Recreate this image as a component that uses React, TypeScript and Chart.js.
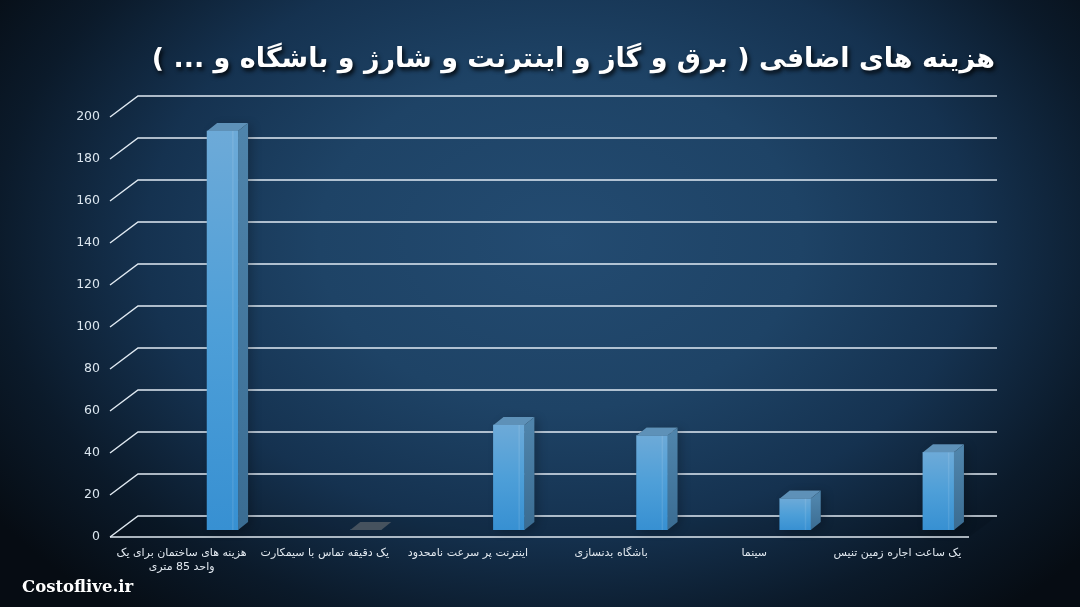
import React, { useEffect, useRef } from 'react';
import { Chart, registerables } from 'chart.js';

Chart.register(...registerables);

const TITLE = 'هزینه های اضافی ( برق و گاز و اینترنت و شارژ و باشگاه و ... )';
const WATERMARK = 'Costoflive.ir';

const categories: (string | string[])[] = [
  ['هزینه های ساختمان برای یک', 'واحد 85 متری'],
  'یک دقیقه تماس با سیمکارت',
  'اینترنت پر سرعت نامحدود',
  'باشگاه بدنسازی',
  'سینما',
  'یک ساعت اجاره زمین تنیس',
];
const costs = [190, 0, 50, 45, 15, 37];
const yMin = 0;
const yMax = 200;
const yStep = 20;

// 3D styling constants
const WALL_DX = 28;
const WALL_DY = 21;
const BAR_SHIFT_X = 41;
const BAR_SHIFT_Y = -7;
const BAR_DX = 10;
const BAR_DY = 8;

const W = 1080;
const H = 607;

function fitFont(ctx: CanvasRenderingContext2D, text: string, weight: string, family: string, start: number, maxW: number) {
  let size = start;
  ctx.font = `${weight} ${size}px ${family}`;
  while (ctx.measureText(text).width > maxW && size > 8) {
    size -= 0.5;
    ctx.font = `${weight} ${size}px ${family}`;
  }
  return size;
}

const scenePlugin = {
  id: 'scene3d',
  beforeDraw(chart: any) {
    const ctx: CanvasRenderingContext2D = chart.ctx;
    ctx.save();
    ctx.fillStyle = '#060c13';
    ctx.fillRect(0, 0, W, H);
    ctx.translate(560, 240);
    ctx.scale(1, 0.7);
    const g = ctx.createRadialGradient(0, 0, 0, 0, 0, 690);
    g.addColorStop(0, '#234b71');
    g.addColorStop(0.35, '#1e4366');
    g.addColorStop(0.6, '#153250');
    g.addColorStop(0.82, '#0b1a2a');
    g.addColorStop(1, '#060c13');
    ctx.fillStyle = g;
    ctx.fillRect(-720, -720, 1440, 1440);
    ctx.restore();
  },
  beforeDatasetsDraw(chart: any) {
    const ctx: CanvasRenderingContext2D = chart.ctx;
    const area = chart.chartArea;
    const ys = chart.scales.y;
    ctx.save();
    // floor
    const y0 = ys.getPixelForValue(yMin);
    ctx.beginPath();
    ctx.moveTo(area.left, y0);
    ctx.lineTo(area.left + WALL_DX, y0 - WALL_DY);
    ctx.lineTo(area.right + WALL_DX, y0 - WALL_DY);
    ctx.lineTo(area.right, y0);
    ctx.closePath();
    ctx.fillStyle = 'rgba(0,0,0,0.1)';
    ctx.fill();
    // grid lines
    ctx.strokeStyle = 'rgba(236,244,252,0.95)';
    ctx.lineWidth = 1.4;
    for (let v = yMin; v <= yMax; v += yStep) {
      const yf = ys.getPixelForValue(v);
      ctx.beginPath();
      ctx.moveTo(area.left, yf);
      ctx.lineTo(area.left + WALL_DX, yf - WALL_DY);
      ctx.lineTo(area.right + WALL_DX, yf - WALL_DY);
      ctx.stroke();
    }
    ctx.beginPath();
    ctx.moveTo(area.left, y0);
    ctx.lineTo(area.right, y0);
    ctx.stroke();

    // bar shadows
    const meta = chart.getDatasetMeta(0);
    ctx.fillStyle = 'rgba(0,0,0,0.35)';
    ctx.shadowColor = 'rgba(0,0,0,0.6)';
    ctx.shadowBlur = 10;
    ctx.shadowOffsetX = 4;
    ctx.shadowOffsetY = 2;
    meta.data.forEach((el: any) => {
      const { x, y, base, width } = el.getProps(['x', 'y', 'base', 'width'], true);
      const l = x - width / 2 + BAR_SHIFT_X;
      const r = x + width / 2 + BAR_SHIFT_X;
      const t = y + BAR_SHIFT_Y;
      const b = base + BAR_SHIFT_Y;
      if (b - t < 1) return;
      ctx.beginPath();
      ctx.moveTo(l, b);
      ctx.lineTo(l, t);
      ctx.lineTo(l + BAR_DX, t - BAR_DY);
      ctx.lineTo(r + BAR_DX, t - BAR_DY);
      ctx.lineTo(r + BAR_DX, b - BAR_DY);
      ctx.lineTo(r, b);
      ctx.closePath();
      ctx.fill();
    });
    ctx.restore();

    ctx.save();
    ctx.translate(BAR_SHIFT_X, BAR_SHIFT_Y);
  },
  afterDatasetsDraw(chart: any) {
    const ctx: CanvasRenderingContext2D = chart.ctx;
    ctx.restore();
    const meta = chart.getDatasetMeta(0);
    const data = chart.data.datasets[0].data as number[];
    ctx.save();
    meta.data.forEach((el: any, i: number) => {
      const { x, y, base, width } = el.getProps(['x', 'y', 'base', 'width'], true);
      const l = x - width / 2 + BAR_SHIFT_X;
      const r = x + width / 2 + BAR_SHIFT_X;
      const t = y + BAR_SHIFT_Y;
      const b = base + BAR_SHIFT_Y;
      const zero = data[i] === 0;
      if (!zero) {
        const sg = ctx.createLinearGradient(0, t, 0, b);
        sg.addColorStop(0, '#4f84ab');
        sg.addColorStop(1, '#3a6c92');
        ctx.fillStyle = sg;
        ctx.beginPath();
        ctx.moveTo(r, t);
        ctx.lineTo(r + BAR_DX, t - BAR_DY);
        ctx.lineTo(r + BAR_DX, b - BAR_DY);
        ctx.lineTo(r, b);
        ctx.closePath();
        ctx.fill();
        // light strip on front face
        ctx.fillStyle = 'rgba(255,255,255,0.10)';
        ctx.fillRect(r - 6, t, 1.5, b - t);
      }
      ctx.fillStyle = zero ? '#46525e' : '#5e91b8';
      ctx.beginPath();
      ctx.moveTo(l, t);
      ctx.lineTo(l + BAR_DX, t - BAR_DY);
      ctx.lineTo(r + BAR_DX, t - BAR_DY);
      ctx.lineTo(r, t);
      ctx.closePath();
      ctx.fill();
    });
    ctx.restore();
  },
  afterDraw(chart: any) {
    const ctx: CanvasRenderingContext2D = chart.ctx;
    ctx.save();
    ctx.direction = 'rtl';
    ctx.textAlign = 'right';
    ctx.textBaseline = 'alphabetic';
    fitFont(ctx, TITLE, 'bold', '"DejaVu Sans"', 34, 856);
    ctx.shadowColor = 'rgba(0,0,0,0.85)';
    ctx.shadowBlur = 4;
    ctx.shadowOffsetX = 2;
    ctx.shadowOffsetY = 3;
    ctx.fillStyle = '#ffffff';
    ctx.fillText(TITLE, 995, 67);
    ctx.restore();

    ctx.save();
    ctx.direction = 'ltr';
    ctx.textAlign = 'left';
    ctx.textBaseline = 'alphabetic';
    fitFont(ctx, WATERMARK, 'bold', '"DejaVu Serif"', 20, 112);
    ctx.fillStyle = '#ffffff';
    ctx.fillText(WATERMARK, 22, 592);
    ctx.restore();
  },
};

export default function App() {
  const canvasRef = useRef<HTMLCanvasElement | null>(null);

  useEffect(() => {
    document.body.style.margin = '0';
    const canvas = canvasRef.current;
    if (!canvas) return;
    const chart = new Chart(canvas, {
      type: 'bar',
      data: {
        labels: categories,
        datasets: [
          {
            data: costs,
            barThickness: 31,
            borderWidth: 0,
            backgroundColor: (c: any) => {
              const ch = c.chart;
              const ys = ch.scales && ch.scales.y;
              if (!ys || c.dataIndex === undefined) return '#3f95d4';
              const top = ys.getPixelForValue(costs[c.dataIndex]);
              const bottom = ys.getPixelForValue(yMin);
              if (!isFinite(top) || !isFinite(bottom) || bottom - top < 1) return '#3f95d4';
              const g = ch.ctx.createLinearGradient(0, top, 0, bottom);
              g.addColorStop(0, '#6daad8');
              g.addColorStop(0.5, '#4e9fd8');
              g.addColorStop(1, '#3790d2');
              return g;
            },
          },
        ],
      },
      options: {
        responsive: false,
        animation: false,
        events: [],
        layout: { padding: { top: 117, right: 111, bottom: 0, left: 0 } },
        plugins: {
          legend: { display: false },
          tooltip: { enabled: false },
          title: { display: false },
        },
        scales: {
          x: {
            grid: { display: false, drawTicks: false },
            border: { display: false },
            ticks: {
              color: '#e2e9f0',
              font: { family: '"DejaVu Sans"', size: 11 },
              padding: 10,
              maxRotation: 0,
              autoSkip: false,
            },
            afterFit: (s: any) => {
              s.height = 70;
            },
          },
          y: {
            min: yMin,
            max: yMax,
            grid: { display: false, drawTicks: false },
            border: { display: false },
            ticks: {
              stepSize: yStep,
              color: '#dbe6ef',
              font: { family: '"DejaVu Sans"', size: 12.5 },
              padding: 10,
            },
            afterFit: (s: any) => {
              s.width = 110;
            },
          },
        },
      },
      plugins: [scenePlugin],
    });
    return () => chart.destroy();
  }, []);

  return (
    <div style={{ width: W, height: H }}>
      <canvas ref={canvasRef} width={W} height={H} dir="rtl" style={{ display: 'block', width: W, height: H }} />
    </div>
  );
}
